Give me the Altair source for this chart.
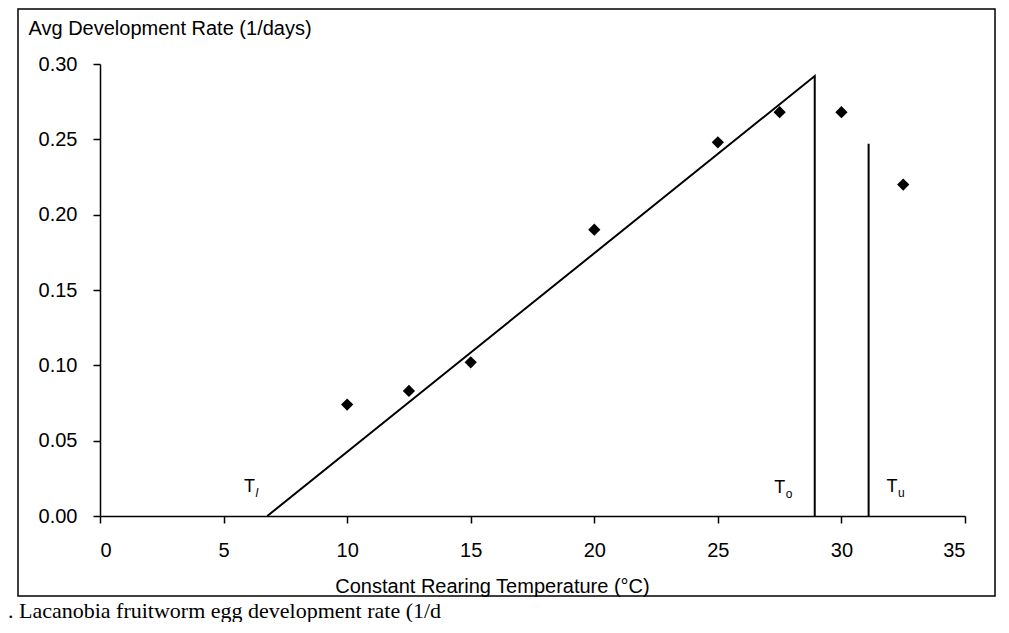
import altair as alt
import pandas as pd

# ---- data ----
temps = [10.0, 12.5, 15.0, 20.0, 25.0, 27.5, 30.0, 32.5]
rates = [0.074, 0.083, 0.102, 0.190, 0.248, 0.268, 0.268, 0.220]

fit_x = [6.77, 28.92, 28.92]
fit_y = [0.0, 0.292, 0.0]
fit_order = [0, 1, 2]

tu_x = [31.1, 31.1]
tu_y = [0.0, 0.247]

lab_main = ["T", "T", "T"]
lab_sub = ["l", "o", "u"]
lab_x = [6.05, 27.5, 32.05]
lab_y = [0.016, 0.015, 0.016]

x_ticks = [0, 5, 10, 15, 20, 25, 30, 35]
y_ticks = [0.0, 0.05, 0.10, 0.15, 0.20, 0.25, 0.30]

x_title = "Constant Rearing Temperature (°C)"
y_title = "Avg Development Rate (1/days)"
caption = [". Lacanobia fruitworm egg development rate (1/d"]

W, H = 865, 452
FONT = "Liberation Sans"

pts = pd.DataFrame({"t": temps, "r": rates})
fit = pd.DataFrame({"t": fit_x, "r": fit_y, "o": fit_order})
tu = pd.DataFrame({"t": tu_x, "r": tu_y})
labs = pd.DataFrame({"t": lab_x, "r": lab_y, "m": lab_main, "s": lab_sub})
cap = pd.DataFrame({"c": caption})

xs = alt.Scale(domain=[0, 35], nice=False, zero=False)
ys = alt.Scale(domain=[0, 0.30], nice=False, zero=False)

xax = alt.Axis(values=x_ticks, grid=False, title=x_title, labelFont=FONT, labelFontSize=20,
               titleFont=FONT, titleFontSize=20, titleFontWeight="normal", labelColor="black",
               titleColor="black", domainColor="black", tickColor="black", domainWidth=1.5,
               tickWidth=1.5, tickSize=7, labelPadding=17, titleX=392, titleY=76,
               titleAlign="center", titleBaseline="alphabetic", labelBaseline="top")
yax = alt.Axis(values=y_ticks, format=".2f", grid=False, title=y_title, labelFont=FONT,
               labelFontSize=20, titleFont=FONT, titleFontSize=20, titleFontWeight="normal",
               labelColor="black", titleColor="black", domainColor="black", tickColor="black",
               domainWidth=1.5, tickWidth=1.5, tickSize=7, labelPadding=16, titleAngle=0,
               titleX=-72, titleY=-30, titleAlign="left", titleBaseline="alphabetic")

points = alt.Chart(pts).mark_point(shape="diamond", filled=True, color="black", size=150, opacity=1).encode(
    x=alt.X("t:Q", scale=xs, axis=xax),
    y=alt.Y("r:Q", scale=ys, axis=yax),
)

fitline = alt.Chart(fit).mark_line(color="black", strokeWidth=2).encode(
    x=alt.X("t:Q", scale=xs), y=alt.Y("r:Q", scale=ys), order="o:Q"
)

tuline = alt.Chart(tu).mark_line(color="black", strokeWidth=2).encode(
    x=alt.X("t:Q", scale=xs), y=alt.Y("r:Q", scale=ys)
)

tmain = alt.Chart(labs).mark_text(font=FONT, fontSize=18, color="black", align="center",
                                  baseline="alphabetic").encode(
    x=alt.X("t:Q", scale=xs), y=alt.Y("r:Q", scale=ys), text="m:N"
)
tsub = alt.Chart(labs).transform_filter(alt.datum.s != "l").mark_text(
    font=FONT, fontSize=12, color="black", align="left", baseline="alphabetic", dx=6, dy=5).encode(
    x=alt.X("t:Q", scale=xs), y=alt.Y("r:Q", scale=ys), text="s:N"
)
tsub_it = alt.Chart(labs).transform_filter(alt.datum.s == "l").mark_text(
    font=FONT, fontSize=12, fontStyle="italic", color="black", align="left",
    baseline="alphabetic", dx=6, dy=5).encode(
    x=alt.X("t:Q", scale=xs), y=alt.Y("r:Q", scale=ys), text="s:N"
)

frame = alt.Chart(cap).mark_rect(fill="transparent", stroke="black", strokeWidth=1.5).encode(
    x=alt.value(-82), x2=alt.value(W + 30), y=alt.value(-55), y2=alt.value(H + 80)
)

captext = alt.Chart(cap).mark_text(font="Liberation Serif", fontSize=22, color="black",
                                   align="left", baseline="alphabetic").encode(
    x=alt.value(-92), y=alt.value(H + 102), text="c:N"
)

chart = alt.layer(frame, fitline, tuline, points, tmain, tsub, tsub_it, captext).properties(
    width=W, height=H, padding={"left": 0, "top": 0, "right": 0, "bottom": 0},
    background="white"
).configure_view(stroke="transparent")

chart.save("out.html", embed_options={"renderer": "svg", "actions": False})
